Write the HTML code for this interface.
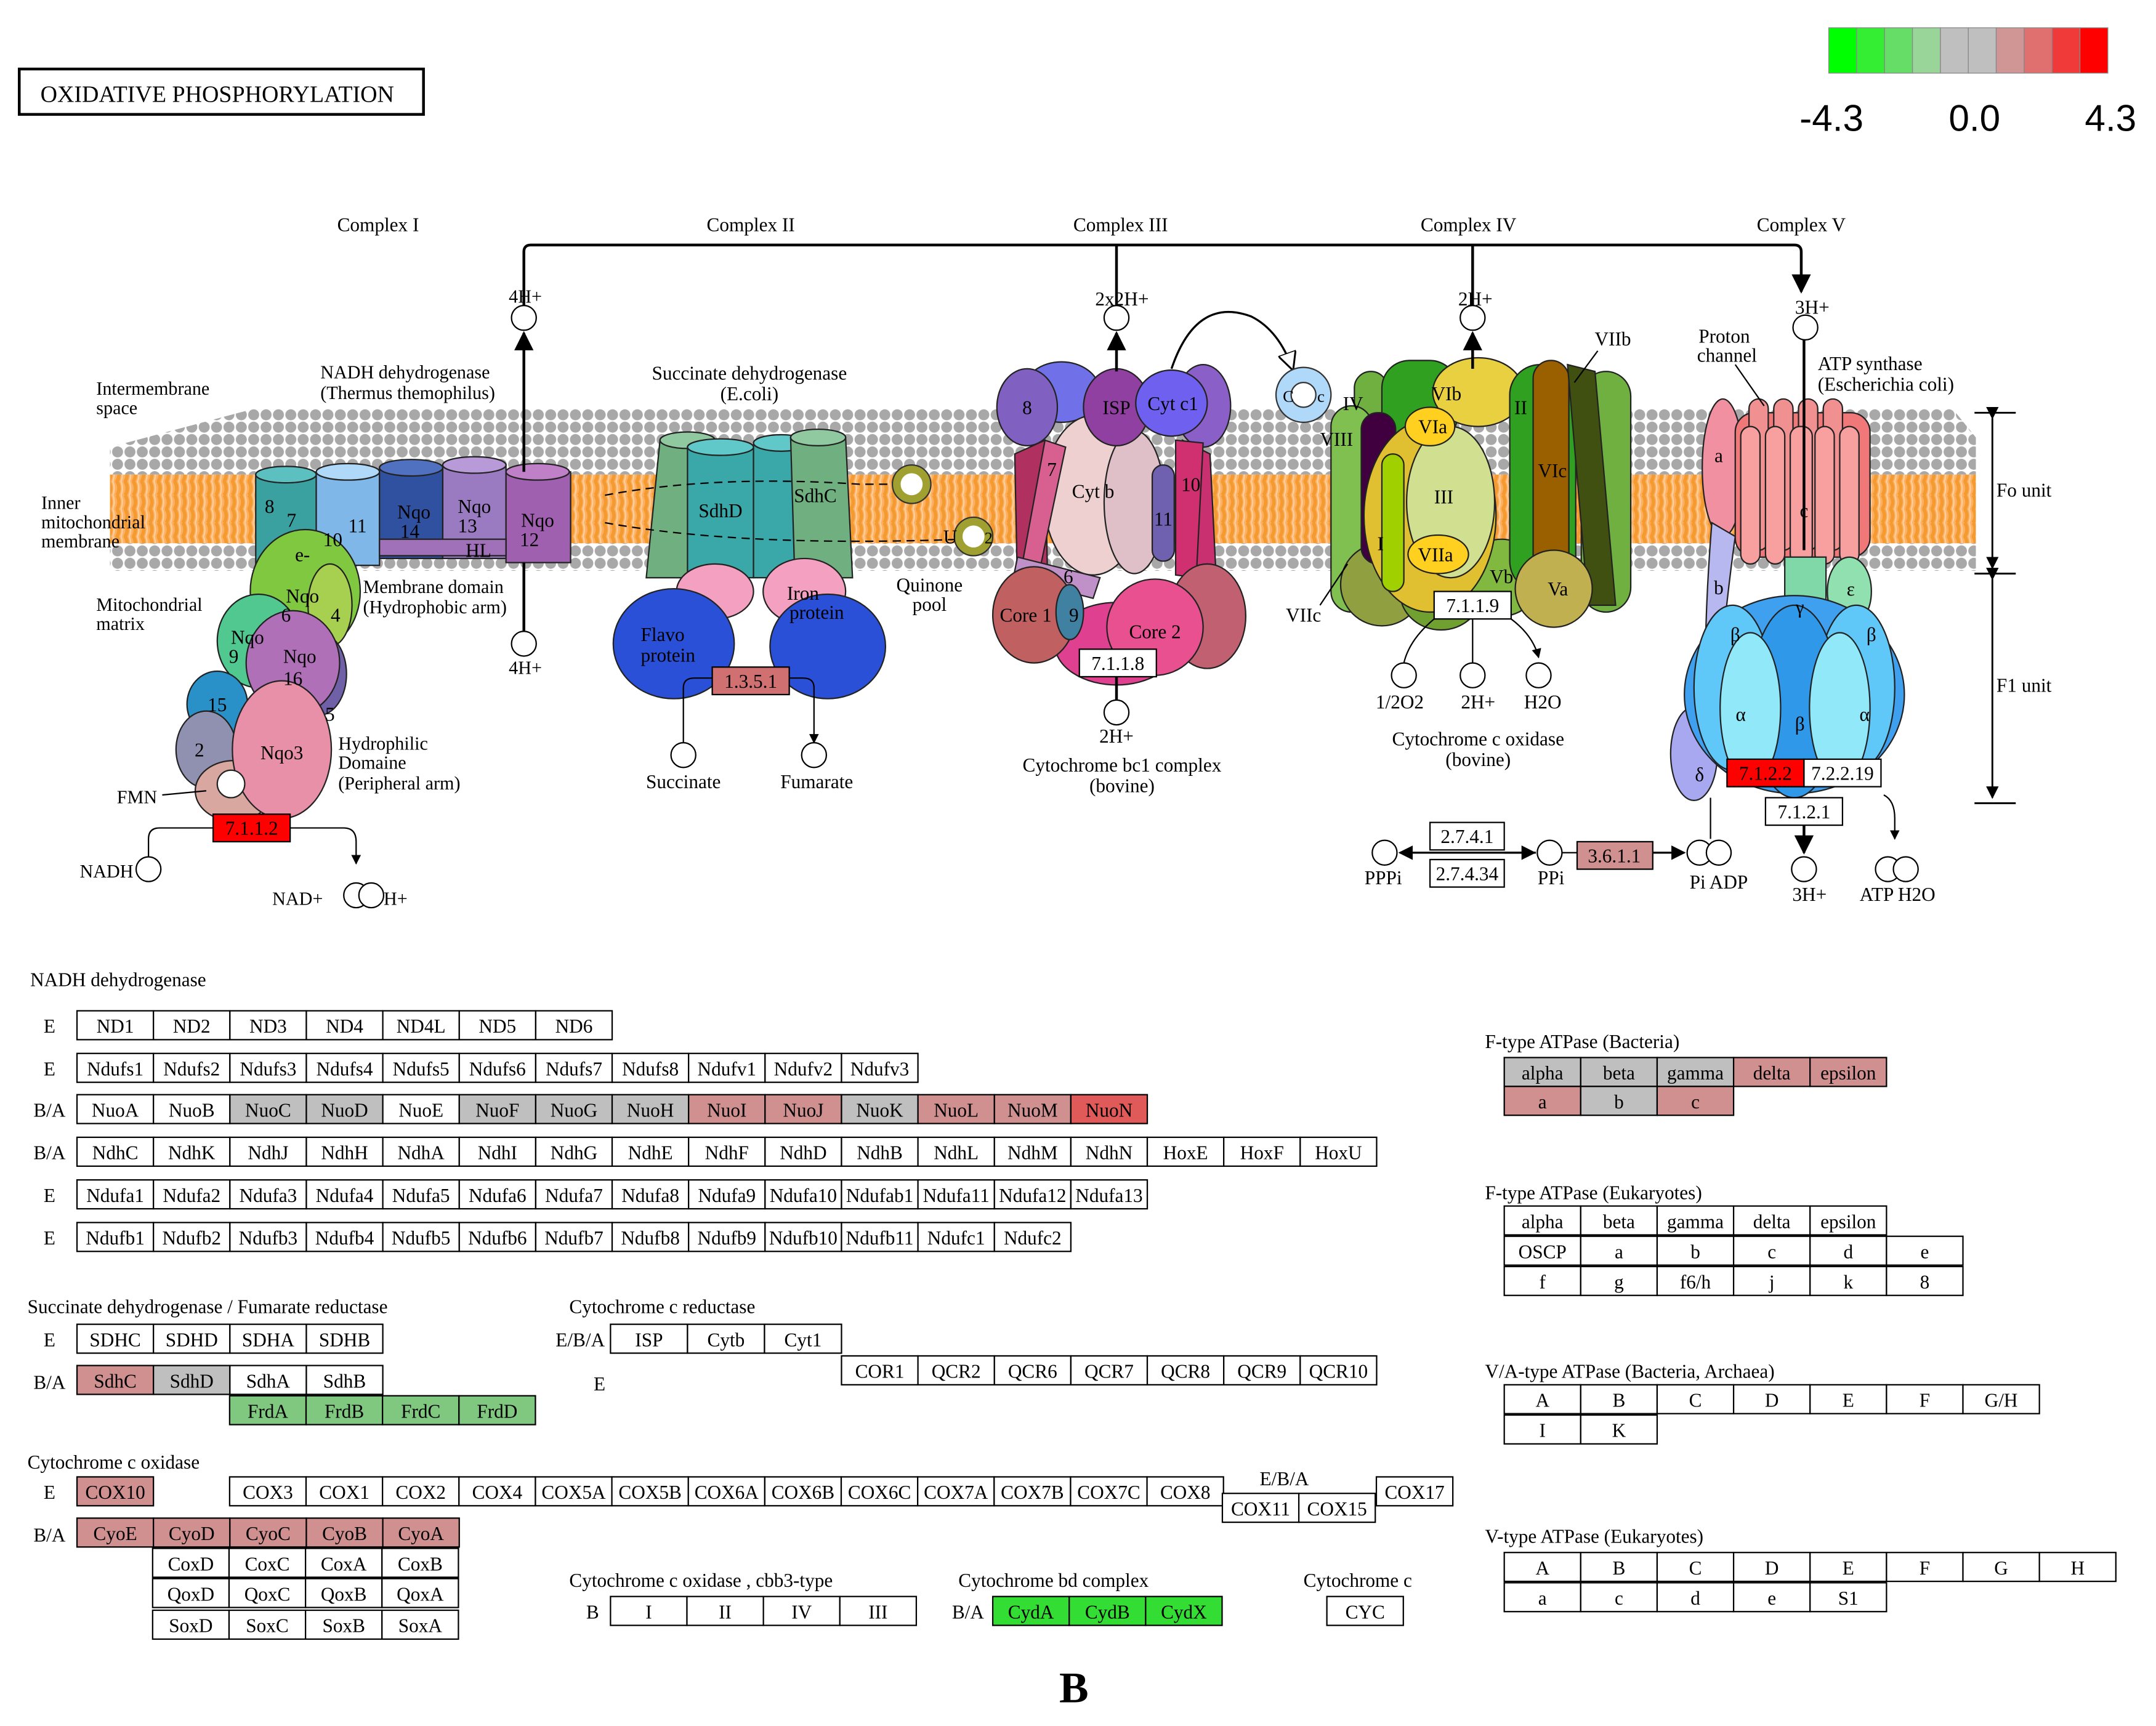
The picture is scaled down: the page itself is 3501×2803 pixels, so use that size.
<!DOCTYPE html>
<html><head><meta charset="utf-8">
<style>
html,body{margin:0;padding:0;background:#fff;}
svg{display:block;}
text{font-family:"Liberation Serif",serif;}
</style></head>
<body>
<svg id="s" xmlns="http://www.w3.org/2000/svg" width="3501" height="2803" viewBox="0 0 1568 1255">
<defs>
<pattern id="heads" width="9" height="9" patternUnits="userSpaceOnUse">
<rect width="9" height="9" fill="#fff"/><circle cx="4.5" cy="4.5" r="4" fill="#a8a8a8"/></pattern>
<pattern id="tails" width="6" height="20" patternUnits="userSpaceOnUse">
<rect width="6" height="20" fill="#ffb060"/><path d="M1 0 Q4 5 1 10 Q4 15 1 20" stroke="#f39a30" stroke-width="2.5" fill="none"/><path d="M4 0 Q6 5 4 10 Q6 15 4 20" stroke="#fdd0a0" stroke-width="1" fill="none"/></pattern>
<marker id="ar" viewBox="0 0 10 10" refX="9" refY="5" markerWidth="7" markerHeight="7" orient="auto"><path d="M0 0 L10 5 L0 10z" fill="#000"/></marker>
<marker id="aro" viewBox="0 0 10 10" refX="9" refY="5" markerWidth="9" markerHeight="9" orient="auto"><path d="M0 0 L10 5 L0 10z" fill="#fff" stroke="#000"/></marker>
</defs>

<!-- legend -->
<g stroke="#888" stroke-width="0.6">
<rect x="1330" y="20" width="20.3" height="33" fill="#00ff00"/>
<rect x="1350.3" y="20" width="20.3" height="33" fill="#33ee33"/>
<rect x="1370.6" y="20" width="20.3" height="33" fill="#66dd66"/>
<rect x="1390.9" y="20" width="20.3" height="33" fill="#99d599"/>
<rect x="1411.2" y="20" width="20.3" height="33" fill="#bfbfbf"/>
<rect x="1431.5" y="20" width="20.3" height="33" fill="#bfbfbf"/>
<rect x="1451.8" y="20" width="20.3" height="33" fill="#d09595"/>
<rect x="1472.1" y="20" width="20.3" height="33" fill="#e07070"/>
<rect x="1492.4" y="20" width="20.3" height="33" fill="#f03a3a"/>
<rect x="1512.7" y="20" width="20.3" height="33" fill="#ff0000"/>
</g>
<g font-size="27" text-anchor="middle">
<text x="1332" y="95" style="font-family:'Liberation Sans',sans-serif">-4.3</text>
<text x="1436" y="95" style="font-family:'Liberation Sans',sans-serif">0.0</text>
<text x="1535" y="95" style="font-family:'Liberation Sans',sans-serif">4.3</text>
</g>

<rect x="14" y="50" width="294" height="33" fill="#fff" stroke="#000" stroke-width="2"/>
<text x="158" y="74" font-size="17" text-anchor="middle">OXIDATIVE PHOSPHORYLATION</text>

<!-- membrane -->
<polygon points="185,297 1420,297 1437,318 1437,345 80,345 80,325" fill="url(#heads)"/>
<rect x="80" y="345" width="1357" height="50" fill="url(#tails)"/>
<rect x="80" y="395" width="1357" height="20" fill="url(#heads)"/>

<g font-size="14" text-anchor="middle">
<text x="275" y="168">Complex I</text><text x="546" y="168">Complex II</text>
<text x="815" y="168">Complex III</text><text x="1068" y="168">Complex IV</text><text x="1310" y="168">Complex V</text>
</g>
<path d="M381 222 V183 Q381 178 386 178 H1305 Q1310 178 1310 183 V212" stroke="#000" stroke-width="2" fill="none" marker-end="url(#ar)"/>
<line x1="812" y1="178" x2="812" y2="222" stroke="#000" stroke-width="2"/>
<line x1="1071" y1="178" x2="1071" y2="222" stroke="#000" stroke-width="2"/>

<!-- Complex I -->
<g stroke="#222" stroke-width="1">
<rect x="186" y="345" width="44" height="65" fill="#3aa0a0"/><ellipse cx="208" cy="345" rx="22" ry="6" fill="#5cc0c0"/>
<rect x="230" y="343" width="46" height="68" fill="#7fb8e8"/><ellipse cx="253" cy="343" rx="23" ry="6" fill="#b0d8f8"/>
<rect x="276" y="340" width="46" height="66" fill="#3050a0"/><ellipse cx="299" cy="340" rx="23" ry="6" fill="#5070c0"/>
<rect x="322" y="338" width="46" height="68" fill="#9a7ac0"/><ellipse cx="345" cy="338" rx="23" ry="6" fill="#b89ad8"/>
<rect x="368" y="343" width="47" height="66" fill="#a060b0"/><ellipse cx="391" cy="343" rx="23" ry="6" fill="#c080c8"/>
<rect x="276" y="392" width="92" height="12" fill="#a070b8"/>
<ellipse cx="222" cy="430" rx="40" ry="45" fill="#80c840"/>
<ellipse cx="240" cy="440" rx="16" ry="30" fill="#a8d050"/>
<ellipse cx="188" cy="466" rx="30" ry="34" fill="#50c890"/>
<ellipse cx="232" cy="490" rx="20" ry="30" fill="#7060a8"/>
<ellipse cx="213" cy="482" rx="34" ry="38" fill="#b070b8"/>
<ellipse cx="158" cy="512" rx="22" ry="24" fill="#2a90c8"/>
<ellipse cx="150" cy="545" rx="22" ry="28" fill="#9090b0"/>
<ellipse cx="170" cy="575" rx="28" ry="22" fill="#d8a8a0"/>
<ellipse cx="205" cy="545" rx="36" ry="50" fill="#e890a8"/>
<circle cx="168" cy="570" r="10" fill="#fff"/>
</g>
<g font-size="14" text-anchor="middle">
<text x="196" y="373">8</text><text x="212" y="383">7</text><text x="242" y="397">10</text><text x="260" y="387">11</text>
<text x="301" y="377">Nqo</text><text x="298" y="391">14</text><text x="345" y="373">Nqo</text><text x="340" y="387">13</text>
<text x="391" y="383">Nqo</text><text x="385" y="397">12</text><text x="348" y="405">HL</text><text x="220" y="408">e-</text>
<text x="220" y="438">Nqo</text><text x="208" y="452">6</text><text x="244" y="452">4</text>
<text x="180" y="468">Nqo</text><text x="170" y="482">9</text><text x="218" y="482">Nqo</text><text x="213" y="498">16</text>
<text x="158" y="517">15</text><text x="145" y="550">2</text><text x="205" y="552">Nqo3</text><text x="240" y="524">5</text>
</g>
<g font-size="13.5">
<text x="70" y="287">Intermembrane</text><text x="70" y="301">space</text>
<text x="30" y="370">Inner</text><text x="30" y="384">mitochondrial</text><text x="30" y="398">membrane</text>
<text x="70" y="444">Mitochondrial</text><text x="70" y="458">matrix</text>
<text x="233" y="275">NADH dehydrogenase</text><text x="233" y="290">(Thermus themophilus)</text>
<text x="264" y="431">Membrane domain</text><text x="264" y="446">(Hydrophobic arm)</text>
<text x="246" y="545">Hydrophilic</text><text x="246" y="559">Domaine</text><text x="246" y="574">(Peripheral arm)</text>
<text x="85" y="584">FMN</text>
<text x="58" y="638">NADH</text><text x="198" y="658">NAD+</text><text x="279" y="658">H+</text>
<text x="370" y="220">4H+</text><text x="370" y="490">4H+</text>
</g>
<line x1="118" y1="578" x2="150" y2="575" stroke="#000"/>
<line x1="381" y1="343" x2="381" y2="242" stroke="#000" stroke-width="2" marker-end="url(#ar)"/>
<line x1="381" y1="409" x2="381" y2="459" stroke="#000" stroke-width="2"/>
<circle cx="381" cy="231" r="9" fill="#fff" stroke="#000"/>
<circle cx="381" cy="468" r="9" fill="#fff" stroke="#000"/>
<rect x="155" y="592" width="56" height="20" fill="#ff0000" stroke="#000"/>
<text x="183" y="607" font-size="14" text-anchor="middle">7.1.1.2</text>
<path d="M108 623 V610 Q108 602 116 602 H155 M211 602 H250 Q259 602 259 612 V628" stroke="#000" fill="none" marker-end="url(#ar)"/>
<circle cx="108" cy="632" r="9" fill="#fff" stroke="#000"/>
<circle cx="259" cy="651" r="9" fill="#fff" stroke="#000"/><circle cx="270" cy="651" r="9" fill="#fff" stroke="#000"/>

<!-- Complex II -->
<g stroke="#222">
<path d="M480 320 L520 320 L515 420 L470 420z" fill="#70b080"/><ellipse cx="500" cy="320" rx="20" ry="6" fill="#90c8a0"/>
<rect x="500" y="325" width="48" height="95" fill="#3aa8a8"/><ellipse cx="524" cy="325" rx="24" ry="6" fill="#60c8c8"/>
<rect x="548" y="322" width="40" height="98" fill="#3aa8a8"/><ellipse cx="568" cy="322" rx="20" ry="6" fill="#60c8c8"/>
<path d="M575 318 L615 318 L620 420 L578 420z" fill="#70b080"/><ellipse cx="595" cy="318" rx="20" ry="6" fill="#90c8a0"/>
<ellipse cx="520" cy="430" rx="28" ry="20" fill="#f4a0c0"/><ellipse cx="585" cy="430" rx="30" ry="24" fill="#f4a0c0"/>
<ellipse cx="490" cy="468" rx="44" ry="40" fill="#2a50d8"/>
<ellipse cx="602" cy="470" rx="42" ry="38" fill="#2a50d8"/>
</g>
<path d="M440 360 Q520 345 625 352 L660 352 M440 380 Q540 398 700 392" stroke="#000" stroke-dasharray="6,4" fill="none"/>
<g font-size="14" text-anchor="middle">
<text x="524" y="376">SdhD</text><text x="593" y="365">SdhC</text>
<text x="466" y="466" text-anchor="start">Flavo</text><text x="466" y="481" text-anchor="start">protein</text>
<text x="584" y="436">Iron</text><text x="594" y="450">protein</text>
<text x="497" y="573">Succinate</text><text x="594" y="573">Fumarate</text>
<text x="676" y="430">Quinone</text><text x="676" y="444">pool</text>
<text x="545" y="276">Succinate dehydrogenase</text><text x="545" y="291">(E.coli)</text>
</g>
<rect x="518" y="485" width="56" height="20" fill="#d07070" stroke="#000"/>
<text x="546" y="500" font-size="14" text-anchor="middle">1.3.5.1</text>
<path d="M497 540 V500 Q497 493 505 493 H518 M574 493 H584 Q592 493 592 500 V540" stroke="#000" fill="none" marker-end="url(#ar)"/>
<circle cx="497" cy="549" r="9" fill="#fff" stroke="#000"/><circle cx="592" cy="549" r="9" fill="#fff" stroke="#000"/>
<circle cx="663" cy="352" r="14" fill="#a0a030" stroke="#333"/><circle cx="663" cy="352" r="8" fill="#fff"/>
<circle cx="708" cy="390" r="14" fill="#a0a030" stroke="#333"/><circle cx="708" cy="390" r="8" fill="#fff"/>
<text x="686" y="395" font-size="14">U</text><text x="716" y="395" font-size="12">2</text>

<!-- Complex III -->
<g stroke="#222">
<ellipse cx="875" cy="295" rx="20" ry="30" fill="#8a60c8"/>
<ellipse cx="772" cy="285" rx="28" ry="22" fill="#7070e8"/>
<ellipse cx="747" cy="296" rx="22" ry="28" fill="#8060c0"/>
<path d="M738 330 L760 320 L762 430 L740 430z" fill="#b03060"/>
<path d="M860 320 L880 330 L885 430 L860 430z" fill="#c83070"/>
<ellipse cx="795" cy="360" rx="36" ry="58" fill="#eed0d0"/>
<ellipse cx="825" cy="365" rx="22" ry="52" fill="#e0c0c8"/>
<path d="M760 320 L775 325 L755 420 L742 418z" fill="#d86090"/>
<rect x="838" y="338" width="16" height="70" rx="8" fill="#7060b0"/>
<path d="M855 320 L875 322 L870 420 L855 418z" fill="#d03070"/>
<path d="M740 405 L800 420 L795 435 L737 420z" fill="#c090c8"/>
<ellipse cx="812" cy="296" rx="24" ry="28" fill="#9040a0"/>
<ellipse cx="852" cy="293" rx="26" ry="24" fill="#7060f0"/>
<ellipse cx="878" cy="448" rx="28" ry="38" fill="#c06070"/>
<ellipse cx="812" cy="468" rx="45" ry="30" fill="#e04090"/>
<ellipse cx="752" cy="447" rx="30" ry="35" fill="#c06060"/>
<ellipse cx="778" cy="445" rx="10" ry="20" fill="#4080a0"/>
<ellipse cx="840" cy="456" rx="35" ry="35" fill="#e85090"/>
</g>
<g font-size="14" text-anchor="middle">
<text x="747" y="301">8</text><text x="812" y="301">ISP</text><text x="853" y="298">Cyt c1</text>
<text x="795" y="362">Cyt b</text><text x="765" y="346">7</text><text x="866" y="357">10</text><text x="846" y="382">11</text><text x="777" y="424">6</text>
<text x="746" y="452">Core 1</text><text x="781" y="452">9</text><text x="840" y="464">Core 2</text>
<text x="812" y="540">2H+</text><text x="816" y="561">Cytochrome bc1 complex</text><text x="816" y="576">(bovine)</text>
<text x="816" y="222">2x2H+</text>
</g>
<line x1="812" y1="270" x2="812" y2="242" stroke="#000" stroke-width="2" marker-end="url(#ar)"/>
<circle cx="812" cy="231" r="9" fill="#fff" stroke="#000"/>
<rect x="785" y="472" width="56" height="20" fill="#fff" stroke="#000"/>
<text x="813" y="487" font-size="14" text-anchor="middle">7.1.1.8</text>
<line x1="812" y1="492" x2="812" y2="509" stroke="#000" stroke-width="2"/>
<circle cx="812" cy="518" r="9" fill="#fff" stroke="#000"/>
<path d="M852 268 Q870 215 910 230 Q930 240 940 268" stroke="#000" stroke-width="1.5" fill="none" marker-end="url(#aro)"/>
<circle cx="948" cy="287" r="20" fill="#b0d8f8" stroke="#333"/><circle cx="948" cy="287" r="9" fill="#fff" stroke="#333"/>
<text x="933" y="292" font-size="12">C</text><text x="958" y="292" font-size="12">c</text>

<!-- Complex IV -->
<g stroke="#222">
<rect x="985" y="270" width="24" height="175" rx="12" fill="#70b040"/>
<rect x="968" y="295" width="30" height="150" rx="15" fill="#80c050"/>
<rect x="1150" y="270" width="36" height="175" rx="18" fill="#70b040"/>
<ellipse cx="1005" cy="425" rx="30" ry="30" fill="#90a040"/>
<ellipse cx="1048" cy="430" rx="30" ry="28" fill="#70a030"/>
<ellipse cx="1092" cy="420" rx="28" ry="28" fill="#80b840"/>
<rect x="1005" y="262" width="55" height="60" rx="20" fill="#30a020"/>
<rect x="990" y="300" width="25" height="110" rx="12" fill="#400040"/>
<ellipse cx="1075" cy="285" rx="33" ry="25" fill="#e8d040"/>
<rect x="1098" y="265" width="48" height="165" rx="22" fill="#30a020"/>
<ellipse cx="1040" cy="375" rx="48" ry="70" fill="#e0c030"/>
<ellipse cx="1055" cy="365" rx="32" ry="55" fill="#d0e090"/>
<ellipse cx="1040" cy="310" rx="18" ry="14" fill="#ffd020"/>
<ellipse cx="1046" cy="403" rx="22" ry="14" fill="#ffd020"/>
<rect x="1115" y="262" width="26" height="170" rx="13" fill="#9a6000"/>
<path d="M1140 265 L1160 270 L1175 440 L1155 440z" fill="#405010"/>
<ellipse cx="1130" cy="428" rx="28" ry="28" fill="#c0b050"/>
<rect x="1005" y="330" width="16" height="100" rx="8" fill="#a0d000"/>
</g>
<g font-size="14" text-anchor="middle">
<text x="1052" y="291">VIb</text><text x="1042" y="315">VIa</text><text x="1050" y="366">III</text><text x="1106" y="301">II</text>
<text x="1129" y="347">VIc</text><text x="1044" y="408">VIIa</text><text x="1004" y="400">I</text><text x="984" y="298">IV</text>
<text x="972" y="324">VIII</text><text x="1092" y="424">Vb</text><text x="1133" y="433">Va</text>
<text x="1173" y="251">VIIb</text><text x="948" y="452">VIIc</text>
<text x="1073" y="222">2H+</text>
<text x="1018" y="515">1/2O2</text><text x="1075" y="515">2H+</text><text x="1122" y="515">H2O</text>
<text x="1075" y="542">Cytochrome c oxidase</text><text x="1075" y="557">(bovine)</text>
</g>
<line x1="1162" y1="255" x2="1145" y2="278" stroke="#000"/>
<line x1="960" y1="440" x2="980" y2="410" stroke="#000"/>
<line x1="1071" y1="268" x2="1071" y2="242" stroke="#000" stroke-width="2" marker-end="url(#ar)"/>
<circle cx="1071" cy="231" r="9" fill="#fff" stroke="#000"/>
<rect x="1043" y="430" width="56" height="20" fill="#fff" stroke="#000"/>
<text x="1071" y="445" font-size="14" text-anchor="middle">7.1.1.9</text>
<path d="M1043 450 Q1025 465 1021 482 M1071 450 V482 M1099 450 Q1115 462 1119 478" stroke="#000" fill="none" marker-end="url(#ar)"/>
<circle cx="1021" cy="491" r="9" fill="#fff" stroke="#000"/><circle cx="1071" cy="491" r="9" fill="#fff" stroke="#000"/><circle cx="1119" cy="491" r="9" fill="#fff" stroke="#000"/>

<!-- Complex V -->
<g stroke="#222">
<ellipse cx="1253" cy="340" rx="15" ry="50" fill="#f090a0"/>
<path d="M1245 380 Q1240 440 1240 500 L1250 500 Q1255 440 1262 390z" fill="#b8b8f0"/>
<ellipse cx="1232" cy="548" rx="17" ry="34" fill="#a8a8f0"/>
<rect x="1262" y="300" width="98" height="105" rx="14" fill="#f07878"/>
<rect x="1272" y="290" width="14" height="110" rx="7" fill="#f09090"/><rect x="1290" y="290" width="14" height="110" rx="7" fill="#f09090"/>
<rect x="1308" y="290" width="14" height="110" rx="7" fill="#f09090"/><rect x="1326" y="290" width="14" height="110" rx="7" fill="#f09090"/>
<rect x="1266" y="310" width="14" height="100" rx="7" fill="#f8a0a0"/><rect x="1284" y="310" width="14" height="100" rx="7" fill="#f8a0a0"/>
<rect x="1302" y="310" width="16" height="100" rx="7" fill="#f8a0a0"/><rect x="1320" y="310" width="14" height="100" rx="7" fill="#f8a0a0"/><rect x="1338" y="310" width="14" height="100" rx="7" fill="#f8a0a0"/>
<rect x="1298" y="405" width="30" height="70" fill="#80d8a8"/>
<ellipse cx="1345" cy="430" rx="16" ry="25" fill="#90e0b0"/>
<ellipse cx="1305" cy="505" rx="80" ry="72" fill="#40a0f0"/>
<ellipse cx="1260" cy="500" rx="28" ry="60" fill="#60c8f8"/>
<ellipse cx="1350" cy="500" rx="28" ry="60" fill="#60c8f8"/>
<ellipse cx="1305" cy="510" rx="32" ry="70" fill="#3098e8"/>
<ellipse cx="1273" cy="515" rx="22" ry="55" fill="#90e8f8"/>
<ellipse cx="1338" cy="515" rx="22" ry="55" fill="#90e8f8"/>
</g>
<g font-size="14" text-anchor="middle">
<text x="1250" y="336">a</text><text x="1312" y="376">c</text><text x="1250" y="432">b</text><text x="1309" y="446">γ</text><text x="1346" y="433">ε</text>
<text x="1262" y="466">β</text><text x="1361" y="466">β</text><text x="1266" y="524">α</text><text x="1356" y="524">α</text><text x="1309" y="531">β</text>
<text x="1236" y="568">δ</text>
<text x="1254" y="249">Proton</text><text x="1256" y="263">channel</text>
<text x="1322" y="269" text-anchor="start">ATP synthase</text><text x="1322" y="284" text-anchor="start">(Escherichia coli)</text>
<text x="1318" y="228">3H+</text>
<text x="1472" y="361">Fo unit</text><text x="1472" y="503">F1 unit</text>
<text x="1006" y="643">PPPi</text><text x="1128" y="643">PPi</text><text x="1250" y="646">Pi ADP</text>
<text x="1316" y="655">3H+</text><text x="1380" y="655">ATP H2O</text>
</g>
<line x1="1262" y1="265" x2="1283" y2="295" stroke="#000"/>
<line x1="1312" y1="247" x2="1312" y2="400" stroke="#000" stroke-width="2"/>
<circle cx="1313" cy="238" r="9" fill="#fff" stroke="#000"/>
<g stroke="#000" stroke-width="1.3">
<line x1="1436" y1="300" x2="1466" y2="300"/><line x1="1436" y1="417" x2="1466" y2="417"/><line x1="1436" y1="584" x2="1466" y2="584"/>
<line x1="1449" y1="304" x2="1449" y2="413" marker-end="url(#ar)" marker-start="url(#ar)"/>
<line x1="1449" y1="421" x2="1449" y2="580" marker-end="url(#ar)" marker-start="url(#ar)"/>
</g>
<rect x="1256" y="552" width="56" height="20" fill="#ff0000" stroke="#000"/>
<text x="1284" y="567" font-size="14" text-anchor="middle">7.1.2.2</text>
<rect x="1312" y="552" width="56" height="20" fill="#fff" stroke="#000"/>
<text x="1340" y="567" font-size="14" text-anchor="middle">7.2.2.19</text>
<rect x="1284" y="580" width="56" height="20" fill="#fff" stroke="#000"/>
<text x="1312" y="595" font-size="14" text-anchor="middle">7.1.2.1</text>
<path d="M1312 600 V620" stroke="#000" stroke-width="2" fill="none" marker-end="url(#ar)"/>
<path d="M1370 578 Q1378 582 1378 595 V610" stroke="#000" fill="none" marker-end="url(#ar)"/>
<line x1="1244" y1="580" x2="1244" y2="610" stroke="#000"/>
<circle cx="1312" cy="632" r="9" fill="#fff" stroke="#000"/>
<circle cx="1373" cy="632" r="9" fill="#fff" stroke="#000"/><circle cx="1386" cy="632" r="9" fill="#fff" stroke="#000"/>
<circle cx="1236" cy="620" r="9" fill="#fff" stroke="#000"/><circle cx="1250" cy="620" r="9" fill="#fff" stroke="#000"/>
<circle cx="1007" cy="620" r="9" fill="#fff" stroke="#000"/><circle cx="1127" cy="620" r="9" fill="#fff" stroke="#000"/>
<rect x="1040" y="598" width="54" height="20" fill="#fff" stroke="#000"/><text x="1067" y="613" font-size="14" text-anchor="middle">2.7.4.1</text>
<rect x="1040" y="625" width="54" height="20" fill="#fff" stroke="#000"/><text x="1067" y="640" font-size="14" text-anchor="middle">2.7.4.34</text>
<rect x="1147" y="612" width="55" height="20" fill="#d09090" stroke="#000"/><text x="1174" y="627" font-size="14" text-anchor="middle">3.6.1.1</text>
<line x1="1117" y1="620" x2="1018" y2="620" stroke="#000" stroke-width="1.5" marker-end="url(#ar)"/>
<line x1="1094" y1="620" x2="1116" y2="620" stroke="#000" stroke-width="1.5" marker-end="url(#ar)"/>
<line x1="1136" y1="620" x2="1147" y2="620" stroke="#000"/>
<line x1="1202" y1="620" x2="1225" y2="620" stroke="#000" stroke-width="1.5" marker-end="url(#ar)"/>

<g id="tables" font-size="14"></g>
<text x="781" y="1238" font-size="32" font-weight="bold" text-anchor="middle">B</text>
</svg>
<script>
var g=document.getElementById('tables'),h='';
var W='#fff',G='#bfbfbf',P='#d09090',R='#e05a5a',L='#80c880',B='#33dd33';
function row(x,y,w,cells,cols){for(var i=0;i<cells.length;i++){var c=(cols&&cols[i])||W;
h+='<rect x="'+(x+i*w)+'" y="'+y+'" width="'+w+'" height="21" fill="'+c+'" stroke="#000" stroke-width="1"/>';
h+='<text x="'+(x+i*w+w/2)+'" y="'+(y+16)+'" text-anchor="middle">'+cells[i]+'</text>';}}
function t(x,y,s,a){h+='<text x="'+x+'" y="'+y+'"'+(a?' text-anchor="'+a+'"':'')+'>'+s+'</text>';}
var w=55.6;
t(22,717,'NADH dehydrogenase');
t(36,751,'E','middle');row(56,735,w,['ND1','ND2','ND3','ND4','ND4L','ND5','ND6']);
t(36,782,'E','middle');row(56,766,w,['Ndufs1','Ndufs2','Ndufs3','Ndufs4','Ndufs5','Ndufs6','Ndufs7','Ndufs8','Ndufv1','Ndufv2','Ndufv3']);
t(36,812,'B/A','middle');row(56,796,w,['NuoA','NuoB','NuoC','NuoD','NuoE','NuoF','NuoG','NuoH','NuoI','NuoJ','NuoK','NuoL','NuoM','NuoN'],[W,W,G,G,W,G,G,G,P,P,G,P,P,R]);
t(36,843,'B/A','middle');row(56,827,w,['NdhC','NdhK','NdhJ','NdhH','NdhA','NdhI','NdhG','NdhE','NdhF','NdhD','NdhB','NdhL','NdhM','NdhN','HoxE','HoxF','HoxU']);
t(36,874,'E','middle');row(56,858,w,['Ndufa1','Ndufa2','Ndufa3','Ndufa4','Ndufa5','Ndufa6','Ndufa7','Ndufa8','Ndufa9','Ndufa10','Ndufab1','Ndufa11','Ndufa12','Ndufa13']);
t(36,905,'E','middle');row(56,889,w,['Ndufb1','Ndufb2','Ndufb3','Ndufb4','Ndufb5','Ndufb6','Ndufb7','Ndufb8','Ndufb9','Ndufb10','Ndufb11','Ndufc1','Ndufc2']);
t(20,955,'Succinate dehydrogenase / Fumarate reductase');
t(36,979,'E','middle');row(56,963,w,['SDHC','SDHD','SDHA','SDHB']);
t(36,1010,'B/A','middle');row(56,993,w,['SdhC','SdhD','SdhA','SdhB'],[P,G]);
row(167,1015,w,['FrdA','FrdB','FrdC','FrdD'],[L,L,L,L]);
t(414,955,'Cytochrome c reductase');
t(422,979,'E/B/A','middle');row(444,963,56,['ISP','Cytb','Cyt1']);
t(436,1011,'E','middle');row(612,986,w,['COR1','QCR2','QCR6','QCR7','QCR8','QCR9','QCR10']);
t(20,1068,'Cytochrome c oxidase');
t(36,1090,'E','middle');row(56,1074,w,['COX10'],[P]);
row(167,1074,w,['COX3','COX1','COX2','COX4','COX5A','COX5B','COX6A','COX6B','COX6C','COX7A','COX7B','COX7C','COX8']);
t(934,1080,'E/B/A','middle');row(889,1086,w,['COX11','COX15']);row(1001,1074,w,['COX17']);
t(36,1121,'B/A','middle');row(56,1104,w,['CyoE','CyoD','CyoC','CyoB','CyoA'],[P,P,P,P,P]);
row(111,1126,w,['CoxD','CoxC','CoxA','CoxB']);row(111,1148,w,['QoxD','QoxC','QoxB','QoxA']);row(111,1171,w,['SoxD','SoxC','SoxB','SoxA']);
t(414,1154,'Cytochrome c oxidase , cbb3-type');t(431,1177,'B','middle');row(444,1161,w,['I','II','IV','III']);
t(697,1154,'Cytochrome bd complex');t(704,1177,'B/A','middle');row(722,1161,w,['CydA','CydB','CydX'],[B,B,B]);
t(948,1154,'Cytochrome c');row(965,1161,w,['CYC']);
t(1080,762,'F-type ATPase (Bacteria)');
row(1094,769,w,['alpha','beta','gamma','delta','epsilon'],[G,G,G,P,P]);row(1094,790,w,['a','b','c'],[P,G,P]);
t(1080,872,'F-type ATPase (Eukaryotes)');
row(1094,877,w,['alpha','beta','gamma','delta','epsilon']);row(1094,899,w,['OSCP','a','b','c','d','e']);row(1094,921,w,['f','g','f6/h','j','k','8']);
t(1080,1002,'V/A-type ATPase (Bacteria, Archaea)');
row(1094,1007,w,['A','B','C','D','E','F','G/H']);row(1094,1029,w,['I','K']);
t(1080,1122,'V-type ATPase (Eukaryotes)');
row(1094,1129,w,['A','B','C','D','E','F','G','H']);row(1094,1151,w,['a','c','d','e','S1']);
g.innerHTML=h;
</script>
</body></html>
